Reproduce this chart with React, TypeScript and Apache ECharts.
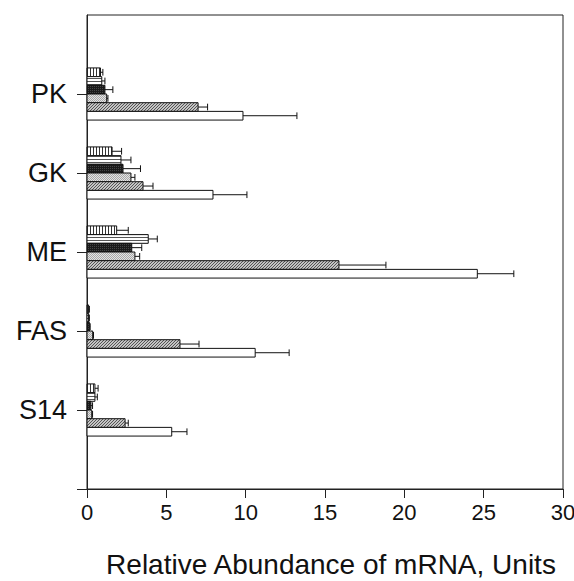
import React, { useEffect, useRef } from "react";
import * as echarts from "echarts";

// y categories (bottom to top); empty slots pad the axis
const yLabels = ["", "S14", "FAS", "ME", "GK", "PK", ""];
// categories in data order for the value arrays below
const categories = ["PK", "GK", "ME", "FAS", "S14"];
const xTicks = [0, 5, 10, 15, 20, 25, 30];
const barNames = ["Vertical hatch", "Horizontal hatch", "Dark", "Stipple", "Diagonal hatch", "Open"];

const vertVals = [0.85, 1.58, 1.87, 0.1, 0.5];
const vertErr = [0.15, 0.6, 0.73, 0.05, 0.2];
const horizVals = [0.93, 2.14, 3.86, 0.1, 0.5];
const horizErr = [0.2, 0.63, 0.57, 0.05, 0.15];
const darkVals = [1.13, 2.27, 2.82, 0.15, 0.25];
const darkErr = [0.5, 1.1, 0.63, 0.05, 0.1];
const stippleVals = [1.24, 2.77, 3.02, 0.36, 0.3];
const stippleErr = [0.08, 0.25, 0.3, 0.05, 0.05];
const diagVals = [7.0, 3.53, 15.88, 5.86, 2.4];
const diagErr = [0.6, 0.63, 2.96, 1.2, 0.2];
const openVals = [9.83, 7.94, 24.6, 10.6, 5.34];
const openErr = [3.4, 2.14, 2.3, 2.14, 0.96];

const allVals = [vertVals, horizVals, darkVals, stippleVals, diagVals, openVals];
const allErr = [vertErr, horizErr, darkErr, stippleErr, diagErr, openErr];

function makePattern(w: number, h: number, draw: (ctx: CanvasRenderingContext2D) => void) {
  const c = document.createElement("canvas");
  c.width = w;
  c.height = h;
  const ctx = c.getContext("2d")!;
  draw(ctx);
  return { image: c, repeat: "repeat" } as any;
}

export default function App() {
  const ref = useRef<HTMLDivElement>(null);
  useEffect(() => {
    if (!ref.current) return;
    const chart = echarts.init(ref.current, null, { renderer: "svg" });

    const patterns: any[] = [
      makePattern(3, 3, (ctx) => {
        ctx.fillStyle = "#fff";
        ctx.fillRect(0, 0, 3, 3);
        ctx.fillStyle = "#333";
        ctx.fillRect(0, 0, 1, 3);
      }),
      makePattern(3, 3, (ctx) => {
        ctx.fillStyle = "#fff";
        ctx.fillRect(0, 0, 3, 3);
        ctx.fillStyle = "#555";
        ctx.fillRect(0, 0, 3, 1);
      }),
      makePattern(2, 2, (ctx) => {
        ctx.fillStyle = "#1a1a1a";
        ctx.fillRect(0, 0, 2, 2);
        ctx.fillStyle = "#444";
        ctx.fillRect(0, 0, 1, 1);
      }),
      makePattern(2, 2, (ctx) => {
        ctx.fillStyle = "#e4e4e4";
        ctx.fillRect(0, 0, 2, 2);
        ctx.fillStyle = "#a8a8a8";
        ctx.fillRect(0, 0, 1, 1);
        ctx.fillRect(1, 1, 1, 1);
      }),
      makePattern(3, 3, (ctx) => {
        ctx.fillStyle = "#c4c4c4";
        ctx.fillRect(0, 0, 3, 3);
        ctx.fillStyle = "#555";
        ctx.fillRect(0, 2, 1, 1);
        ctx.fillRect(1, 1, 1, 1);
        ctx.fillRect(2, 0, 1, 1);
      }),
      "#ffffff",
    ];

    const series = barNames.map((name, j) => ({
      type: "custom",
      name,
      encode: { x: 0, y: 1 },
      data: categories.map((cat, i) => [allVals[j][i], yLabels.indexOf(cat), allErr[j][i]]),
      renderItem: (params: any, api: any) => {
        const v = api.value(0);
        const cat = api.value(1);
        const e = api.value(2);
        const c0 = api.coord([0, cat]);
        const c1 = api.coord([v, cat]);
        const c2 = api.coord([v + e, cat]);
        const band = api.size([0, 1])[1];
        const h = band * 0.11;
        const top = c0[1] - 3 * h + j * h;
        const mid = top + h / 2;
        return {
          type: "group",
          children: [
            {
              type: "rect",
              shape: { x: c0[0], y: top, width: c1[0] - c0[0], height: h },
              style: { fill: patterns[j], stroke: "#111", lineWidth: 1 },
            },
            {
              type: "line",
              shape: { x1: c1[0], y1: mid, x2: c2[0], y2: mid },
              style: { stroke: "#111", lineWidth: 1 },
            },
            {
              type: "line",
              shape: { x1: c2[0], y1: top + 1, x2: c2[0], y2: top + h - 1 },
              style: { stroke: "#111", lineWidth: 1 },
            },
          ],
        };
      },
    }));

    chart.setOption({
      animation: false,
      grid: {
        left: 87,
        right: 11,
        top: 15,
        bottom: 92,
        containLabel: false,
        outerBoundsMode: "none",
        show: true,
        borderColor: "#222",
        borderWidth: 1,
        backgroundColor: "transparent",
      },
      xAxis: {
        type: "value",
        min: xTicks[0],
        max: xTicks[xTicks.length - 1],
        interval: 5,
        splitLine: { show: false },
        axisLine: { show: true, lineStyle: { color: "#222", width: 1 } },
        axisTick: { show: true, length: 9, lineStyle: { color: "#222" } },
        axisLabel: {
          color: "#111",
          fontSize: 22,
          fontFamily: "Liberation Sans, Arial, sans-serif",
          margin: 12,
        },
        name: "Relative Abundance of mRNA, Units",
        nameLocation: "middle",
        nameGap: 61,
        nameTextStyle: {
          color: "#111",
          fontSize: 28,
          fontFamily: "Liberation Sans, Arial, sans-serif",
          padding: [0, 0, 0, 12],
        },
      },
      yAxis: {
        type: "category",
        data: yLabels,
        boundaryGap: false,
        splitLine: { show: false },
        axisLine: { show: true, lineStyle: { color: "#222", width: 1 } },
        axisTick: {
          show: true,
          length: 10,
          interval: (index: number) => index !== yLabels.length - 1,
          lineStyle: { color: "#222" },
        },
        axisLabel: {
          color: "#111",
          fontSize: 27,
          fontFamily: "Liberation Sans, Arial, sans-serif",
          margin: 20,
          padding: [10, 0, 0, 0],
          interval: 0,
        },
      },
      series,
    });
    return () => chart.dispose();
  }, []);
  return (
    <div
      ref={ref}
      style={{ position: "fixed", left: 0, top: 0, width: 574, height: 581, background: "#fff" }}
    />
  );
}
